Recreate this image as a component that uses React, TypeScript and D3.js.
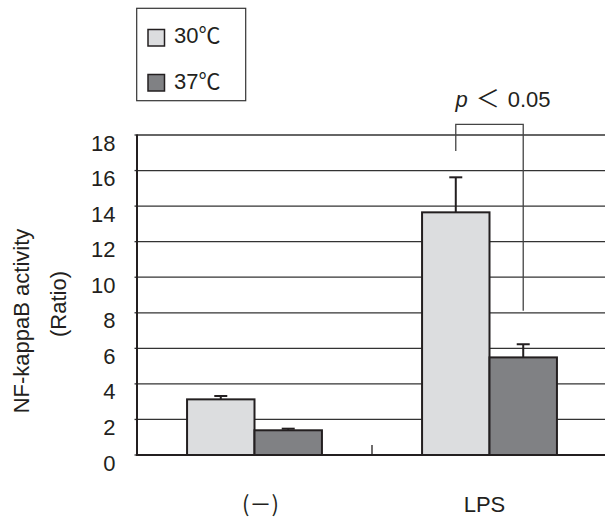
import React from "react";
import * as d3 from "d3";

const categories = ["(－)", "LPS"];
const seriesNames = ["30℃", "37℃"];
const means30 = [3.13, 13.65];
const means37 = [1.39, 5.49];
const errTop30 = [3.32, 15.62];
const errTop37 = [1.48, 6.23];
const yTicks = [0, 2, 4, 6, 8, 10, 12, 14, 16, 18];
const sigParts = ["p", "＜", "0.05"];
// bracket: top level, left leg bottom, right leg bottom (in data units)
const bracketLevels = [18.6, 17.1, 8.12];

const W = 605;
const H = 517;
const FONT = "'Liberation Sans', Arial, Helvetica, 'Noto Sans CJK JP', sans-serif";
const CJK = "'Noto Sans CJK JP', sans-serif";
const fills = ["#dcdddf", "#808184"];
const STROKE = "#231f20";

export default function App() {
  const left = 137, top = 135, bottom = 455, right = 607;
  const y = d3.scaleLinear().domain([0, 18]).range([bottom, top]);
  const x = d3.scaleBand<string>().domain(categories).range([left, right]).padding(0);
  const bw = x.bandwidth() * 0.287;
  const series = [
    { name: seriesNames[0], means: means30, tops: errTop30, fill: fills[0] },
    { name: seriesNames[1], means: means37, tops: errTop37, fill: fills[1] },
  ];
  const center = (c: string) => (x(c) as number) + x.bandwidth() / 2;
  const barX = (c: string, i: number) => center(c) - bw + i * bw;
  const capW = 13;

  const lpsC = center(categories[1]);
  const bLeftX = barX(categories[1], 0) + bw / 2;
  const bRightX = barX(categories[1], 1) + bw / 2;

  return (
    <svg width={W} height={H} style={{ position: "absolute", left: 0, top: 0, display: "block", background: "#fff" }} fontFamily={FONT}>
      {/* legend */}
      <rect x={136.7} y={8.3} width={109} height={92.4} fill="#fff" stroke="#333" strokeWidth={1.2} />
      {series.map((s, i) => (
        <g key={s.name}>
          <rect x={148} y={29.5 + i * 45} width={16.5} height={16.5} fill={s.fill} stroke={STROKE} strokeWidth={1.5} />
          <text x={174} y={43 + i * 45.5} fontSize={22} fill="#231f20">{s.name}</text>
        </g>
      ))}

      {/* gridlines */}
      {yTicks.filter(t => t > 0).map(t => (
        <line key={t} x1={left} x2={right} y1={y(t)} y2={y(t)} stroke="#333" strokeWidth={1.3} />
      ))}
      {/* y tick marks and labels */}
      {yTicks.map(t => (
        <g key={"l" + t}>
          <line x1={left - 2.5} x2={left} y1={y(t)} y2={y(t)} stroke="#333" strokeWidth={1.3} />
          <text x={115.5} y={y(t) + 15.5} fontSize={22} textAnchor="end" fill="#231f20">{t}</text>
        </g>
      ))}

      {/* bars */}
      {series.map((s, i) => (
        <g key={"b" + s.name}>
          {categories.map((c, j) => {
            const bx = barX(c, i);
            const cx = bx + bw / 2;
            return (
              <g key={c}>
                <line x1={cx} x2={cx} y1={y(s.means[j])} y2={y(s.tops[j])} stroke={STROKE} strokeWidth={2} />
                <line x1={cx - capW / 2} x2={cx + capW / 2} y1={y(s.tops[j])} y2={y(s.tops[j])} stroke={STROKE} strokeWidth={2} />
                <rect x={bx} y={y(s.means[j])} width={bw} height={y(0) - y(s.means[j])} fill={s.fill} stroke={STROKE} strokeWidth={2} />
              </g>
            );
          })}
        </g>
      ))}

      {/* axes */}
      <line x1={left} x2={left} y1={top - 0.5} y2={bottom + 1} stroke={STROKE} strokeWidth={2} />
      <line x1={left - 1} x2={right} y1={bottom} y2={bottom} stroke={STROKE} strokeWidth={2} />
      <line x1={x(categories[1]) as number} x2={x(categories[1]) as number} y1={bottom - 10} y2={bottom} stroke={STROKE} strokeWidth={1.3} />

      {/* x labels */}
      {categories.map((c, i) => (
        <text key={c} x={center(c)} dx={i === 0 ? 6 : -5} y={512} fontSize={22} textAnchor="middle" fill="#231f20"
          fontFamily={i === 0 ? CJK : FONT}>{c}</text>
      ))}

      {/* y label */}
      <text transform={`translate(29,321) rotate(-90)`} fontSize={22} textAnchor="middle" fill="#231f20">NF-kappaB activity</text>
      <text transform={`translate(66,304) rotate(-90)`} fontSize={22} textAnchor="middle" fill="#231f20">(Ratio)</text>

      {/* significance bracket */}
      <path d={`M${bLeftX},${y(bracketLevels[1])} V${y(bracketLevels[0])} H${bRightX} V${y(bracketLevels[2])}`}
        fill="none" stroke="#444" strokeWidth={1.3} />
      <text x={lpsC - 34} y={106.5} fontSize={22} fill="#231f20">
        <tspan fontStyle="italic">{sigParts[0]}</tspan>
        <tspan dx={8} fontFamily={CJK} fontSize={24}>{sigParts[1]}</tspan>
        <tspan dx={8}>{sigParts[2]}</tspan>
      </text>
    </svg>
  );
}
